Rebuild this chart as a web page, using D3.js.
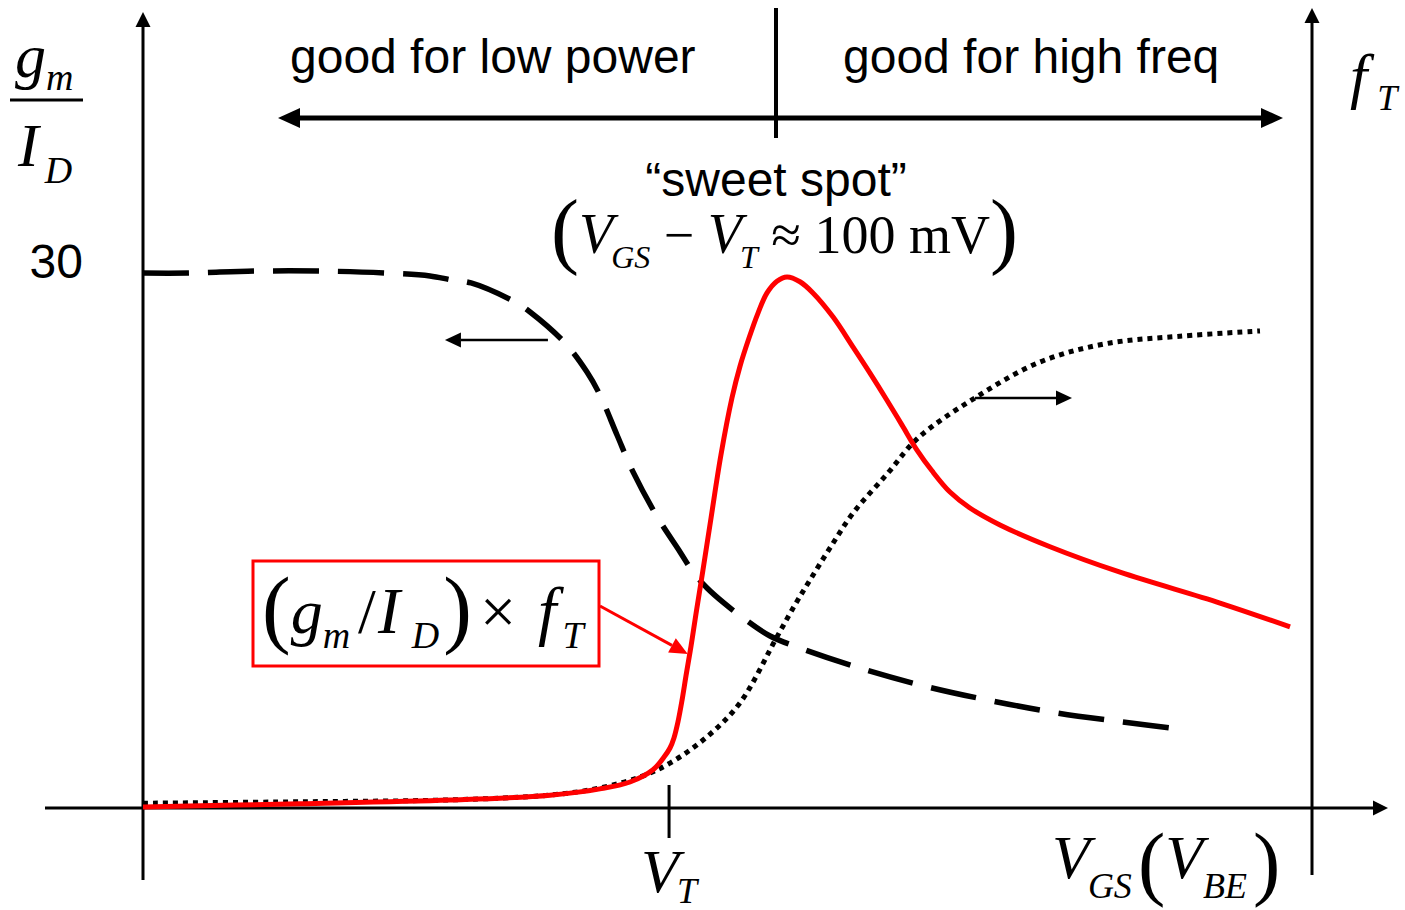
<!DOCTYPE html>
<html>
<head>
<meta charset="utf-8">
<script src="https://cdn.jsdelivr.net/npm/d3@7"></script>
<style>
  body { margin: 0; background: #fff; }
  svg { display: block; }
  .sans { font-family: "Liberation Sans", Arial, sans-serif; }
  .serif { font-family: "Liberation Serif", "Times New Roman", serif; }
</style>
</head>
<body>
<div id="chart"></div>
<script>
const width = 1405, height = 910;

// VGS in arbitrary units, threshold at 4.5
const vt = 4.5;

// gm/ID (dashed, left axis)
const vgsGmId = [0, 0.385, 0.958, 1.531, 2.087, 2.455, 2.643, 2.806, 3.182, 3.311, 3.610, 3.798, 3.909,
  4.055, 4.192, 4.405, 4.594, 4.705, 4.825, 4.979, 5.133, 5.364, 5.620, 6.159, 6.715, 7.263, 7.819, 8.375, 8.931];
const gmId = [29.83, 29.83, 29.94, 29.94, 29.83, 29.67, 29.44, 29.28, 28.22, 27.66, 25.93, 24.31, 23.03,
  20.80, 18.74, 16.17, 14.28, 13.16, 12.27, 11.38, 10.60, 9.59, 8.92, 7.75, 6.75, 5.97, 5.30, 4.80, 4.35];

// fT (dotted, right axis), normalised to the plateau
const vgsFt = [0, 1.343, 2.626, 3.482, 3.909, 4.252, 4.508, 4.825, 5.107, 5.423, 5.577, 5.706, 5.877,
  6.074, 6.373, 6.630, 7.117, 7.673, 8.229, 8.871, 9.555];
const fT = [0.010, 0.013, 0.017, 0.027, 0.042, 0.065, 0.094, 0.149, 0.220, 0.358, 0.425, 0.477, 0.544,
  0.617, 0.701, 0.774, 0.858, 0.933, 0.971, 0.987, 0.998];

// (gm/ID) x fT (red), normalised to the peak
const vgsProd = [0, 1.343, 2.626, 3.482, 3.909, 4.166, 4.363, 4.457, 4.508, 4.542, 4.576, 4.611, 4.645,
  4.688, 4.730, 4.790, 4.859, 4.944, 5.038, 5.107, 5.184, 5.261, 5.338, 5.423, 5.509, 5.620, 5.731,
  5.902, 6.074, 6.219, 6.364, 6.493, 6.621, 6.749, 6.903, 7.074, 7.331, 7.759, 8.358, 9.213, 9.812];
const prod = [0.002, 0.008, 0.015, 0.024, 0.036, 0.049, 0.072, 0.096, 0.113, 0.132, 0.162, 0.203, 0.249,
  0.305, 0.365, 0.448, 0.546, 0.665, 0.772, 0.832, 0.885, 0.932, 0.970, 0.992, 1.000, 0.991, 0.970,
  0.925, 0.868, 0.819, 0.768, 0.721, 0.674, 0.635, 0.595, 0.565, 0.533, 0.492, 0.444, 0.386, 0.341];

const gmIdTicks = [30];
const regionLabels = ["good for low power", "good for high freq"];

const svg = d3.select("#chart").append("svg")
  .attr("width", width)
  .attr("height", height);

const x = d3.scaleLinear().domain([0, 10]).range([143, 1312]);
const yL = d3.scaleLinear().domain([0, 30]).range([808, 270]);
const yR = d3.scaleLinear().domain([0, 1]).range([808, 330]);
const yP = d3.scaleLinear().domain([0, 1]).range([808, 277]);

function arrow(g, x1, y1, x2, y2, o) {
  const a = Math.atan2(y2 - y1, x2 - x1);
  const bx = x2 - o.len * Math.cos(a), by = y2 - o.len * Math.sin(a);
  g.append("line")
    .attr("x1", x1).attr("y1", y1).attr("x2", bx).attr("y2", by)
    .attr("stroke", o.color).attr("stroke-width", o.w);
  const px = -Math.sin(a) * o.half, py = Math.cos(a) * o.half;
  g.append("polygon")
    .attr("points", [[x2, y2], [bx + px, by + py], [bx - px, by - py]].map(p => p.join(",")).join(" "))
    .attr("fill", o.color);
}

// axes
const axes = svg.append("g");
const axisStyle = { color: "#000", w: 3, len: 15, half: 7.5 };
arrow(axes, x(0), 880, x(0), 12, axisStyle);
arrow(axes, 45, yL(0), 1388, yL(0), axisStyle);
arrow(axes, x(10), 875, x(10), 8, axisStyle);

// VT tick
axes.append("line")
  .attr("x1", x(vt)).attr("x2", x(vt))
  .attr("y1", yL(0) - 23).attr("y2", yL(0) + 30)
  .attr("stroke", "#000").attr("stroke-width", 3);

// "30" label through a d3 axis
const yAxis = svg.append("g")
  .attr("transform", `translate(${x(0)},0)`)
  .call(d3.axisLeft(yL).tickValues(gmIdTicks).tickSize(0).tickPadding(60));
yAxis.select(".domain").remove();
yAxis.selectAll("text")
  .style("font-family", '"Liberation Sans", Arial, sans-serif')
  .style("font-size", "48px")
  .attr("fill", "#000")
  .attr("dy", "0.16em");

// curves
const smooth = d3.curveCatmullRom.alpha(0.5);
const lineL = d3.line().x((d, i) => x(vgsGmId[i])).y(d => yL(d)).curve(smooth);
const lineR = d3.line().x((d, i) => x(vgsFt[i])).y(d => yR(d)).curve(smooth);
const lineP = d3.line().x((d, i) => x(vgsProd[i])).y(d => yP(d)).curve(smooth);

svg.append("path")
  .attr("d", lineR(fT))
  .attr("fill", "none")
  .attr("stroke", "#000")
  .attr("stroke-width", 5)
  .attr("stroke-dasharray", "5,5");

svg.append("path")
  .attr("d", lineL(gmId))
  .attr("fill", "none")
  .attr("stroke", "#000")
  .attr("stroke-width", 5.5)
  .attr("stroke-dasharray", "46,19");

svg.append("path")
  .attr("d", lineP(prod))
  .attr("fill", "none")
  .attr("stroke", "#ff0000")
  .attr("stroke-width", 5);

// small arrows telling which axis each curve belongs to
const thin = { color: "#000", w: 2.5, len: 16, half: 7.5 };
arrow(svg, x(3.464), yL(26.1), x(2.583), yL(26.1), thin);
arrow(svg, x(7.117), yR(0.858), x(7.947), yR(0.858), thin);

// top region arrows
const topG = svg.append("g");
const thick = { color: "#000", w: 5, len: 22, half: 10 };
arrow(topG, 776, 118, 278, 118, thick);
arrow(topG, 776, 118, 1283, 118, thick);
topG.append("line")
  .attr("x1", 776).attr("x2", 776).attr("y1", 8).attr("y2", 138)
  .attr("stroke", "#000").attr("stroke-width", 4);

topG.selectAll("text.region")
  .data(regionLabels)
  .join("text")
  .attr("class", "region sans")
  .attr("x", (d, i) => [290, 843][i])
  .attr("y", 73)
  .style("font-size", "48px")
  .text(d => d);

// sweet spot annotation
svg.append("text")
  .attr("class", "sans")
  .attr("x", 776).attr("y", 196)
  .attr("text-anchor", "middle")
  .style("font-size", "48px")
  .text("\u201Csweet spot\u201D");

function mathText(g, x0, y0, parts) {
  const t = g.append("text").attr("class", "serif").attr("x", x0).attr("y", y0);
  let shift = 0;
  parts.forEach(p => {
    const dy = (p.dy || 0) - shift;
    shift = p.dy || 0;
    const s = t.append("tspan")
      .attr("dy", dy)
      .style("font-size", p.size + "px")
      .text(p.t);
    if (p.i) s.style("font-style", "italic");
    if (p.dx) s.attr("dx", p.dx);
  });
  return t;
}

mathText(svg, 551, 253, [
  { t: "(", size: 84, dy: 5 },
  { t: "V", size: 56, i: 1 },
  { t: "GS", size: 32, i: 1, dx: -2, dy: 15 },
  { t: " \u2212 ", size: 54 },
  { t: "V", size: 56, i: 1 },
  { t: "T", size: 32, i: 1, dx: -2, dy: 15 },
  { t: " \u2248 100 mV", size: 54 },
  { t: ")", size: 84, dy: 5 }
]);

// axis labels
mathText(svg, 15, 77, [
  { t: "g", size: 62, i: 1 },
  { t: "m", size: 38, i: 1, dy: 13 }
]);
svg.append("line")
  .attr("x1", 10).attr("x2", 83).attr("y1", 100).attr("y2", 100)
  .attr("stroke", "#000").attr("stroke-width", 3);
mathText(svg, 18, 166, [
  { t: "I", size: 62, i: 1 },
  { t: "D", size: 38, i: 1, dx: 6, dy: 17 }
]);

mathText(svg, 1350, 97, [
  { t: "f", size: 62, i: 1 },
  { t: "T", size: 36, i: 1, dx: 10, dy: 13 }
]);

mathText(svg, x(vt) - 28, 892, [
  { t: "V", size: 62, i: 1 },
  { t: "T", size: 36, i: 1, dx: -2, dy: 11 }
]);

mathText(svg, 1052, 878, [
  { t: "V", size: 62, i: 1 },
  { t: "GS", size: 36, i: 1, dx: -2, dy: 20 },
  { t: "(", size: 82, dx: 6, dy: 12 },
  { t: "V", size: 62, i: 1 },
  { t: "BE", size: 36, i: 1, dy: 20 },
  { t: ")", size: 82, dx: 6, dy: 12 }
]);

// boxed label for the red curve
const box = svg.append("g");
box.append("rect")
  .attr("x", 253).attr("y", 561).attr("width", 346).attr("height", 105)
  .attr("fill", "#fff").attr("stroke", "#ff0000").attr("stroke-width", 3);
mathText(box, 262, 633, [
  { t: "(", size: 86, dy: 4 },
  { t: "g", size: 64, i: 1 },
  { t: "m", size: 38, i: 1, dy: 15 },
  { t: "/", size: 64, dx: 8 },
  { t: "I", size: 66, i: 1, dx: 2 },
  { t: "D", size: 38, i: 1, dx: 12, dy: 15 },
  { t: ")", size: 86, dx: 4, dy: 4 },
  { t: "\u00D7", size: 64, dx: 8 },
  { t: "f", size: 66, i: 1, dx: 22 },
  { t: "T", size: 38, i: 1, dx: 6, dy: 15 }
]);
arrow(svg, 600, 606, x(4.66), yP(0.29), { color: "#ff0000", w: 3, len: 18, half: 8 });
</script>
</body>
</html>
